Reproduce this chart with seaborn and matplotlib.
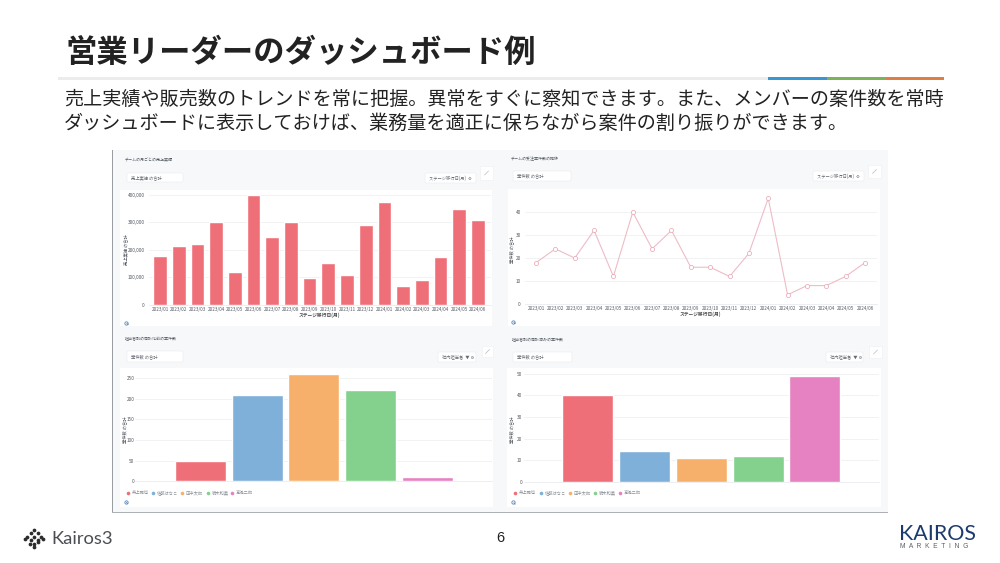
import pandas as pd
import matplotlib
matplotlib.use("Agg")
import matplotlib.pyplot as plt
from matplotlib.patches import Rectangle, FancyBboxPatch
import seaborn as sns

months = ["2023/01", "2023/02", "2023/03", "2023/04", "2023/05", "2023/06",
          "2023/07", "2023/08", "2023/09", "2023/10", "2023/11", "2023/12",
          "2024/01", "2024/02", "2024/03", "2024/04", "2024/05", "2024/06"]
sales = [178000, 213000, 221000, 301000, 118000, 397000,
         245000, 299000, 98000, 153000, 110000, 290000,
         373000, 69000, 89000, 173000, 349000, 308000]
deals = [18, 24, 20, 32, 12, 40, 24, 32, 16, 16, 12, 22, 46, 4, 8, 8, 12, 18]

members = ["井上雅也", "佐藤はなこ", "田中太郎", "鈴木和美", "高橋二郎"]
before_meeting = [50, 210, 260, 220, 10]
after_meeting = [40, 14, 11, 12, 49]
member_colors = ["#ef6f78", "#7fb0d9", "#f7b06b", "#84d18e", "#e681c2"]

sales_ticks = [0, 100000, 200000, 300000, 400000]
deal_ticks = [0, 10, 20, 30, 40]
before_ticks = [0, 50, 100, 150, 200, 250]
after_ticks = [0, 10, 20, 30, 40, 50]

title = "営業リーダーのダッシュボード例"
body_1 = "売上実績や販売数のトレンドを常に把握。異常をすぐに察知できます。また、メンバーの案件数を常時"
body_2 = "ダッシュボードに表示しておけば、業務量を適正に保ちながら案件の割り振りができます。"

W, H = 1000, 563

sns.set_theme(style="white")
plt.rcParams["font.family"] = ["Noto Sans CJK JP", "DejaVu Sans"]

fig = plt.figure(figsize=(W / 100, H / 100), dpi=100, facecolor="white")

# whole page in pixel coordinates, for the slide furniture
bg = fig.add_axes([0, 0, 1, 1], zorder=0)
bg.set_xlim(0, W)
bg.set_ylim(H, 0)
bg.axis("off")


def px_axes(x0, y0, x1, y1):
    return fig.add_axes([x0 / W, 1 - y1 / H, (x1 - x0) / W, (y1 - y0) / H], zorder=2, facecolor="none")


def box(x0, y0, x1, y1, color, edge="none", lw=0, z=1):
    bg.add_patch(Rectangle((x0, y0), x1 - x0, y1 - y0, facecolor=color, edgecolor=edge, linewidth=lw, zorder=z))


def button(x0, y0, x1, y1, label, z=3):
    bg.add_patch(FancyBboxPatch((x0, y0), x1 - x0, y1 - y0, boxstyle="round,pad=0,rounding_size=1.2",
                                facecolor="white", edgecolor="#eceef1", linewidth=0.5, zorder=z))
    bg.text(x0 + 4, (y0 + y1) / 2, label, fontsize=3.1, color="#666b73", va="center", ha="left", zorder=z + 1)


def lens(x, y):
    bg.plot([x], [y], marker="o", ms=2.4, mfc="none", mec="#5b86b8", mew=0.6, zorder=4)
    bg.plot([x + 0.8, x + 2.2], [y + 0.8, y + 2.2], color="#5b86b8", lw=0.6, zorder=4)


def expand_icon(x0, y0, x1, y1):
    box(x0, y0, x1, y1, "white", "#eef0f2", 0.4, z=3)
    cx, cy = (x0 + x1) / 2, (y0 + y1) / 2
    bg.plot([cx - 2, cx + 2], [cy + 2, cy - 2], color="#b9bec5", lw=0.5, zorder=4)


def style_axes(ax, ylim, ticks, pad, fmt="{:d}"):
    ax.set_ylim(*ylim)
    ax.set_yticks(ticks)
    ax.set_yticklabels([fmt.format(t) for t in ticks], fontsize=3.4, color="#555a62")
    ax.grid(axis="y", color="#eef0f2", linewidth=0.6)
    ax.set_axisbelow(True)
    ax.tick_params(axis="both", length=0)
    ax.tick_params(axis="y", pad=pad)
    ax.set_xlabel("")
    ax.set_ylabel("")
    for side in ["top", "left", "right"]:
        ax.spines[side].set_visible(False)
    ax.spines["bottom"].set_color("#e6e8eb")
    ax.spines["bottom"].set_linewidth(0.5)


def legend_row(xs, y):
    for x, name, color in zip(xs, members, member_colors):
        bg.plot([x], [y], marker="o", ms=2.6, color=color, mew=0, zorder=4)
        bg.text(x + 3.5, y, name, fontsize=3.1, color="#8b9097", va="center", ha="left", zorder=4)


# slide header
bg.text(66, 53, title, fontsize=22.55, fontweight="bold", color="#222222", va="center", ha="left")
box(58, 77, 768, 79.5, "#ececec")
box(768, 77, 827, 79.5, "#3a96d2")
box(827, 77, 886, 79.5, "#7cb35a")
box(886, 77, 944, 79.5, "#dd7f45")
bg.text(64, 99, body_1, fontsize=13.75, color="#222222", va="center", ha="left")
bg.text(64, 123, body_2, fontsize=13.75, color="#222222", va="center", ha="left")

# screenshot frame
box(112, 150, 888, 513, "#f7f8fa", z=0.5)
box(111.5, 150, 113, 513, "#9a9da1", z=0.6)
box(112, 511.5, 888, 513, "#adb0b4", z=0.6)
box(120, 190, 492, 326, "white")
box(508, 189, 880, 326, "white")
box(120, 368, 493, 507, "white")
box(507, 368, 881, 507, "white")

# panel headers
for x, y, label in [(125, 160, "チームの月ごとの売上実績"), (511, 158.5, "チームの受注案件数の推移"),
                    (125, 339, "担当者別の商談化前の案件数"), (512, 339, "担当者別の商談済みの案件数")]:
    bg.text(x, y, label, fontsize=2.9, color="#555a62", va="center", ha="left", zorder=4)

button(127, 173, 183, 182, "売上実績 の合計")
button(513, 171, 571, 181, "案件数 の合計")
button(127, 351, 183, 362, "案件数 の合計")
button(513, 352, 572, 362, "案件数 の合計")
button(425, 173, 476, 183, "ステージ移行日(月)  ⚙")
button(813, 171, 864, 181, "ステージ移行日(月)  ⚙")
button(438, 352, 476, 362, "社内担当者  ▼ ⚙")
button(826, 352, 863, 362, "社内担当者  ▼ ⚙")
expand_icon(480, 166, 493, 180)
expand_icon(868, 165, 881, 178)
expand_icon(482, 346, 493, 357)
expand_icon(869, 346, 882, 358)

# monthly sales
ax1 = px_axes(149.3, 191, 491, 305)
sns.barplot(data=pd.DataFrame({"month": months, "sales": sales}), x="month", y="sales",
            color=member_colors[0], saturation=1, width=0.73, ax=ax1)
ax1.set_xlim(-0.572, 17.7)
style_axes(ax1, (0, 413000), sales_ticks, 3.5, "{:,d}")
ax1.tick_params(axis="x", labelsize=3.3, labelcolor="#555a62", pad=1.5)

# monthly deals
ax2 = px_axes(525, 193, 877, 304)
sns.lineplot(data=pd.DataFrame({"month": months, "deals": deals}), x="month", y="deals",
             color="#eebcc6", linewidth=0.8, marker="o", markersize=3,
             markerfacecolor="white", markeredgecolor="#e7a3b1", markeredgewidth=0.5, ax=ax2)
ax2.set_xlim(-0.568, 17.62)
style_axes(ax2, (0, 48.3), deal_ticks, 3)
ax2.tick_params(axis="x", labelsize=3.3, labelcolor="#555a62", pad=1.5)

# per member, before meeting
ax3 = px_axes(135, 372, 491.7, 481.3)
sns.barplot(data=pd.DataFrame({"member": members, "count": before_meeting}), x="member", y="count",
            hue="member", palette=member_colors, legend=False, saturation=1, width=0.9, ax=ax3)
ax3.set_xlim(-1.156, 5.138)
style_axes(ax3, (0, 264.5), before_ticks, 0.5)
ax3.set_xticks([])

# per member, after meeting
ax4 = px_axes(524, 372, 879, 481.7)
sns.barplot(data=pd.DataFrame({"member": members, "count": after_meeting}), x="member", y="count",
            hue="member", palette=member_colors, legend=False, saturation=1, width=0.9, ax=ax4)
ax4.set_xlim(-1.129, 5.135)
style_axes(ax4, (0, 50.8), after_ticks, 1.5)
ax4.set_xticks([])

# axis titles sit at fixed places in the dashboard
for x, y, label in [(125.5, 250, "売上実績 の合計"), (512, 250, "案件数 の合計"),
                    (124.5, 430, "案件数 の合計"), (512, 430, "案件数 の合計")]:
    bg.text(x, y, label, fontsize=3.1, color="#555a62", rotation=90, va="center", ha="center", zorder=4)
bg.text(319, 315, "ステージ移行日(月)", fontsize=3.4, fontweight="bold", color="#444444", va="center", ha="center", zorder=4)
bg.text(700.7, 314, "ステージ移行日(月)", fontsize=3.4, fontweight="bold", color="#444444", va="center", ha="center", zorder=4)

legend_row([128, 153, 182, 208, 232], 492.7)
legend_row([515, 541, 570, 595, 620], 492.7)
lens(126, 322.5)
lens(513, 321.5)
lens(125.5, 501.5)
lens(513, 502)

# footer
bg.text(500, 538.5, "6", fontsize=10.5, color="#222222", va="center", ha="center", fontfamily="Liberation Sans")
for dx, dy in [(0, -8.5), (-3.5, -5), (3.5, -5), (-7, -1.5), (0, -1.5), (7, -1.5), (-9.5, 0.5),
               (-3.5, 2), (3.5, 2), (9, 0.5), (0, 5.5), (-4, 5.5), (4, 4), (0, 9)]:
    bg.plot([34 + dx], [538 + dy], marker="o", ms=2.7, color="#2b2b2b", mew=0, zorder=4)
bg.text(51, 538.5, "Kairos3", fontsize=13.2, color="#4a4d51", va="center", ha="left", fontfamily="Lato")
bg.text(899, 533.5, "KAIROS", fontsize=15.4, color="#1c3a6e", va="center", ha="left", fontfamily="Lato")
bg.text(900, 546, "M  A  R  K  E  T  I  N  G", fontsize=4.8, color="#5c6066", va="center", ha="left", fontfamily="Liberation Sans")

fig.savefig("out.png", dpi=100, facecolor="white")
